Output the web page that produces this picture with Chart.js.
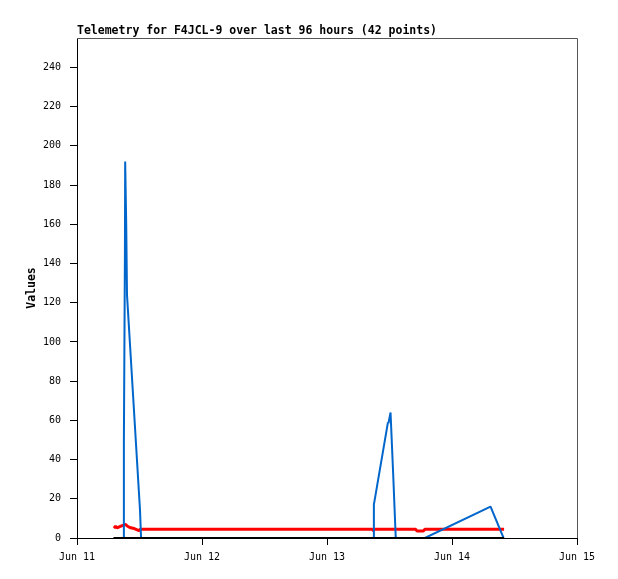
<!DOCTYPE html>
<html>
<head>
<meta charset="utf-8">
<title>Telemetry F4JCL-9</title>
<script src="https://cdn.jsdelivr.net/npm/chart.js@4"></script>
<style>
  body { margin: 0; background: #fff; }
  canvas { display: block; }
</style>
</head>
<body>
<canvas id="myChart" width="618" height="579"></canvas>
<script>
// Titulo y etiquetas
const chartTitle = 'Telemetry for F4JCL-9 over last 96 hours (42 points)';
const yTitle = 'Values';
const dayLabels = ['Jun 11', 'Jun 12', 'Jun 13', 'Jun 14', 'Jun 15'];

// Horas desde Jun 11 00:00 y valores de cada canal
const redHours = [7.1, 7.4, 7.7, 8.2, 9.3, 9.7, 10.3, 11.0, 11.9, 12.2, 56.7, 56.9, 57.0, 65.0, 65.3, 66.5, 66.8, 82.0];
const redValues = [5.0, 6.0, 5.2, 5.8, 7.0, 6.0, 5.2, 4.8, 3.8, 4.5, 4.5, 3.8, 4.5, 4.5, 3.6, 3.6, 4.5, 4.5];

const blueHours = [8.9, 9.0, 9.2, 9.25, 9.45, 9.6, 12.1, 12.3, 56.9, 57.0, 59.7, 59.8, 60.2, 60.7, 61.2, 66.8, 79.4, 81.9];
const blueValues = [0, 48, 145, 192, 160, 124, 14, 0, 0, 17, 59, 58.5, 64, 33, 0, 0, 16, 0];

const blackHours = [7.0, 12.3, 56.9, 66.8, 82.0];
const blackValues = [0, 0, 0, 0, 0];

const toPoints = (hours, values) => hours.map((h, i) => ({ x: h, y: values[i] }));

const monoFont = '"DejaVu Sans Mono", "Liberation Mono", monospace';

// Marco superior/derecho y titulo
const framePlugin = {
    id: 'frame',
    beforeDatasetsDraw(chart) {
        const { ctx, chartArea: a } = chart;
        ctx.save();
        ctx.strokeStyle = '#555555';
        ctx.lineWidth = 1;
        ctx.beginPath();
        ctx.moveTo(a.left, a.top + 0.5);
        ctx.lineTo(a.right + 0.5, a.top + 0.5);
        ctx.lineTo(a.right + 0.5, a.bottom);
        ctx.stroke();
        ctx.font = `bold 11.5px ${monoFont}`;
        ctx.fillStyle = '#000';
        ctx.textAlign = 'left';
        ctx.textBaseline = 'alphabetic';
        ctx.fillText(chartTitle, a.left, a.top - 4);
        ctx.restore();
    }
};

const ctx = document.getElementById('myChart');

const myChart = new Chart(ctx, {
    type: 'line',
    data: {
        datasets: [
            {
                label: 'ch3',
                data: toPoints(blackHours, blackValues),
                borderColor: '#000000',
                borderWidth: 2
            },
            {
                label: 'ch2',
                data: toPoints(blueHours, blueValues),
                borderColor: '#0066cc',
                borderWidth: 2
            },
            {
                label: 'ch1',
                data: toPoints(redHours, redValues),
                borderColor: '#ff0000',
                borderWidth: 3
            }
        ]
    },
    options: {
        responsive: false,
        animation: false,
        devicePixelRatio: 1,
        layout: {
            padding: { top: 38, right: 41, left: 0, bottom: 0 }
        },
        elements: {
            point: { radius: 0 },
            line: { tension: 0, borderJoinStyle: 'bevel' }
        },
        scales: {
            x: {
                type: 'linear',
                min: 0,
                max: 96,
                afterFit: (s) => { s.height = 41; },
                ticks: {
                    stepSize: 24,
                    color: '#000',
                    padding: 6,
                    maxRotation: 0,
                    font: { family: monoFont, size: 10 },
                    callback: (value) => dayLabels[value / 24] || ''
                },
                grid: {
                    drawOnChartArea: false,
                    tickLength: 7,
                    color: '#000'
                },
                border: { color: '#000' }
            },
            y: {
                type: 'linear',
                min: 0,
                max: 255,
                afterFit: (s) => { s.width = 77; },
                afterBuildTicks: (s) => { s.ticks = s.ticks.filter(t => t.value <= 240); },
                ticks: {
                    stepSize: 20,
                    color: '#000',
                    padding: 9,
                    font: { family: monoFont, size: 10 }
                },
                grid: {
                    drawOnChartArea: false,
                    tickLength: 7,
                    color: '#000'
                },
                border: { color: '#000' },
                title: {
                    display: true,
                    text: yTitle,
                    color: '#000',
                    padding: { top: 25, bottom: 0 },
                    font: { family: monoFont, size: 11.5, weight: 'bold' }
                }
            }
        },
        plugins: {
            legend: { display: false },
            tooltip: { enabled: false }
        }
    },
    plugins: [framePlugin]
});
</script>
</body>
</html>
